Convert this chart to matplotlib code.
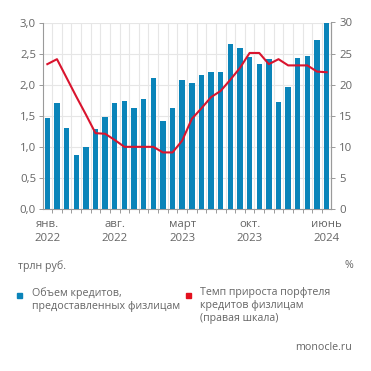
import matplotlib
matplotlib.use("Agg")
import matplotlib.pyplot as plt
import numpy as np

plt.rcParams['font.family'] = ['Open Sans', 'DejaVu Sans']

months = list(range(30))
loans = [1.46, 1.70, 1.31, 0.87, 1.00, 1.29, 1.48, 1.71, 1.74, 1.63, 1.77, 2.11,
         1.41, 1.62, 2.07, 2.02, 2.15, 2.21, 2.21, 2.66, 2.59, 2.45, 2.34, 2.42,
         1.72, 1.96, 2.43, 2.46, 2.72, 3.01]
growth = [23.3, 24.1, 21.1, 18.1, 15.2, 12.2, 12.1, 11.1, 10.0, 10.0, 10.0, 10.0,
          9.1, 9.1, 11.0, 14.5, 16.2, 18.0, 19.0, 20.8, 22.7, 25.1, 25.1, 23.3,
          24.1, 23.1, 23.1, 23.1, 22.1, 22.0]
tick_pos = [0, 7, 14, 21, 29]
tick_labels = ["янв.\n2022", "авг.\n2022", "март\n2023", "окт.\n2023", "июнь\n2024"]
left_ticks = [0.0, 0.5, 1.0, 1.5, 2.0, 2.5, 3.0]
right_ticks = [0, 5, 10, 15, 20, 25, 30]

BLUE = "#0a84b9"
RED = "#d9142e"
TXT = "#656565"
GRID = "#e6e6e6"
SPINE = "#9a9a9a"

W, H = 371, 371
fig = plt.figure(figsize=(W / 100, H / 100), dpi=100)
ax = fig.add_axes([43 / W, 1 - 209 / H, (331 - 43) / W, (209 - 22.5) / H])

ax.bar(months, loans, width=0.56, color=BLUE, zorder=3)
ax.set_xlim(-0.45, 29.45)
ax.set_ylim(0, 3.0)
ax.set_yticks(left_ticks)
ax.set_yticklabels([f"{v:.1f}".replace(".", ",") for v in left_ticks])
ax.set_xticks(tick_pos)
ax.set_xticklabels(tick_labels, linespacing=1.45)
ax.set_xticks([m + 0.5 for m in months[:-1]], minor=True)
ax.grid(axis='y', color=GRID, lw=0.8, zorder=0)
ax.grid(axis='x', which='minor', color=GRID, lw=0.8, zorder=0)
ax.tick_params(axis='x', which='major', length=0, pad=7, labelsize=8.2, labelcolor=TXT)
ax.tick_params(axis='x', which='minor', length=3, color=SPINE, width=0.7)
ax.tick_params(axis='y', length=3, color=SPINE, width=0.7, labelsize=8.2, labelcolor=TXT, pad=2)
for s in ['top']:
    ax.spines[s].set_visible(False)
for s in ['left', 'bottom', 'right']:
    ax.spines[s].set_color(SPINE)
    ax.spines[s].set_linewidth(0.8)

ax2 = ax.twinx()
ax2.plot(months, growth, color=RED, lw=1.5, zorder=4)
ax2.set_ylim(0, 30)
ax2.set_yticks(right_ticks)
ax2.tick_params(axis='y', length=3, color=SPINE, width=0.7, labelsize=8.2, labelcolor=TXT, pad=3)
for s in ['top', 'left', 'bottom']:
    ax2.spines[s].set_visible(False)
ax2.spines['right'].set_color(SPINE)
ax2.spines['right'].set_linewidth(0.8)

def fx(px):
    return px / W

def fy(py):
    return 1 - py / H

fig.text(fx(18), fy(266), "трлн руб.", fontsize=7.7, color=TXT, va='center', ha='left')
fig.text(fx(353), fy(266), "%", fontsize=7.7, color=TXT, va='center', ha='right')

fig.patches.append(plt.Rectangle((fx(17), fy(298)), 5 / W, 5 / H, transform=fig.transFigure,
                                 color=BLUE, figure=fig))
fig.text(fx(32), fy(287), "Объем кредитов,\nпредоставленных физлицам", fontsize=7.7,
         color=TXT, va='top', ha='left', linespacing=1.25)
fig.patches.append(plt.Rectangle((fx(186), fy(298)), 5 / W, 5 / H, transform=fig.transFigure,
                                 color="#e3101e", figure=fig))
fig.text(fx(200), fy(287), "Темп прироста порфтеля\nкредитов физлицам\n(правая шкала)", fontsize=7.7,
         color=TXT, va='top', ha='left', linespacing=1.25)
fig.text(fx(352), fy(348), "monocle.ru", fontsize=7.7, color=TXT, va='center', ha='right')

fig.savefig("out.png", dpi=100, facecolor="white")
